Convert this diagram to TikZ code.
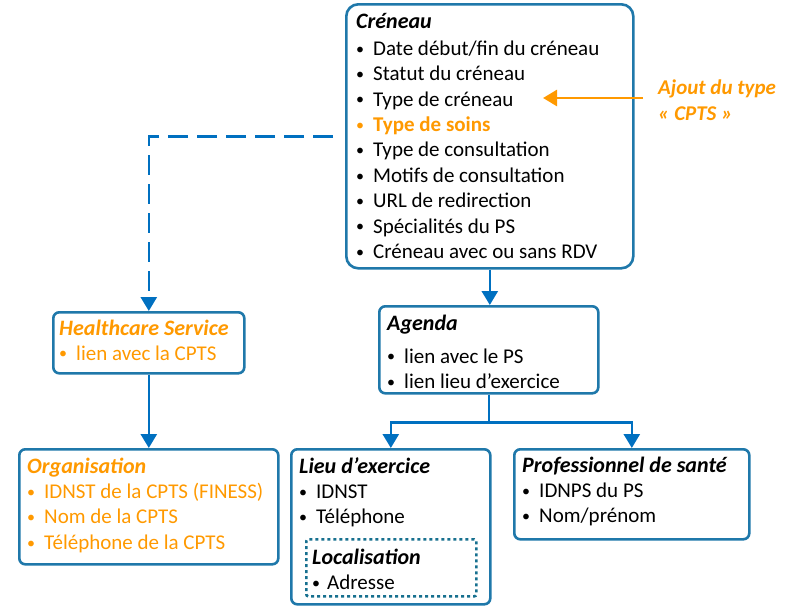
\documentclass[tikz,border=0pt]{standalone}
\usepackage{fontspec}
\setmainfont{Carlito}
\usetikzlibrary{arrows.meta}
\definecolor{boxblue}{HTML}{1F78AA}
\definecolor{linkblue}{HTML}{0070C0}
\definecolor{locblue}{HTML}{17708F}
\definecolor{cptsorange}{HTML}{FF9900}
\newcommand{\bul}{\raisebox{1.2pt}{\fontsize{16}{16}\selectfont\textbullet}}
\newcommand{\itm}[1]{\makebox[17pt][l]{\bul}#1}
\newcommand{\ttl}[1]{{\fontsize{22}{25.4}\selectfont\textbf{\textit{#1}}}}

\tikzset{
  box/.style={draw=boxblue, line width=2.6pt, rounded corners=6pt,
    anchor=north west, inner sep=0pt},
  content/.style={anchor=north west, inner sep=0pt, align=left,
    font=\fontsize{21}{25.4}\selectfont},
  link/.style={draw=linkblue, line width=2.6pt,
    -{Triangle[width=16pt,length=14pt]}},
}

\begin{document}
\begin{tikzpicture}[x=1pt,y=-1pt]
  \useasboundingbox (0,0) rectangle (789,605);

  % boxes
  \node[box, rounded corners=12pt, minimum width=287pt, minimum height=264pt] (creneau) at (345,3) {};
  \node[box, minimum width=191pt, minimum height=61pt] (health) at (52,311) {};
  \node[box, minimum width=219pt, minimum height=87pt] (agenda) at (378,305) {};
  \node[box, minimum width=259pt, minimum height=115pt] (orga) at (18,448) {};
  \node[box, minimum width=199pt, minimum height=155pt] (lieu) at (290,448) {};
  \node[box, draw=locblue, rounded corners=2pt, dash pattern=on 3pt off 3pt,
    minimum width=170pt, minimum height=57pt] (local) at (305,538) {};
  \node[box, minimum width=235pt, minimum height=90pt] (prof) at (513,448) {};

  % texts
  \node[content] (creneau txt) at (356,13) {\ttl{Créneau}\\[1.5pt]
    \itm{Date début/fin du créneau}\\
    \itm{Statut du créneau}\\
    \itm{Type de créneau}\\
    \textcolor{cptsorange}{\itm{\textbf{Type de soins}}}\\
    \itm{Type de consultation}\\
    \itm{Motifs de consultation}\\
    \itm{URL de redirection}\\
    \itm{Spécialités du PS}\\
    \itm{Créneau avec ou sans RDV}};
  \node[content, text=cptsorange] (health txt) at (59,320) {\ttl{Healthcare Service}\\[-1pt]
    \itm{lien avec la CPTS}};
  \node[content] (agenda txt) at (387,315) {\ttl{Agenda}\\[7pt]
    \itm{lien avec le PS}\\
    \itm{lien lieu d’exercice}};
  \node[content, text=cptsorange] (orga txt) at (27,457.5) {\ttl{Organisation}\\
    \itm{IDNST de la CPTS (FINESS)}\\
    \itm{Nom de la CPTS}\\
    \itm{Téléphone de la CPTS}};
  \node[content] (lieu txt) at (299,457) {\ttl{Lieu d’exercice}\\
    \itm{IDNST}\\
    \itm{Téléphone}};
  \node[content] (local txt) at (312,548.5) {\ttl{Localisation}\\
    \makebox[15pt][l]{\bul}Adresse};
  \node[content] (prof txt) at (522,456.5) {\ttl{Professionnel de santé}\\
    \itm{IDNPS du PS}\\
    \itm{Nom/prénom}};
  \node[content, font=\fontsize{21}{26}\selectfont, text=cptsorange] (ajout) at (658,80) {\textbf{\textit{Ajout du type}}\\
    \textbf{\textit{« CPTS »}}};

  % connectors
  \draw[link, dash pattern=on 20pt off 9pt, shorten <=12pt] (creneau.west) -| (health.north);
  \draw[link] (creneau.south) -- (creneau.south |- agenda.north);
  \draw[link] (health.south) -- (orga.north);
  \draw[link] (agenda.south) -- ++(0,28) -| (lieu.north);
  \draw[link] (agenda.south) -- ++(0,28) -| (prof.north);
  \coordinate (ajout tail) at (643,98);
  \coordinate (ajout head) at (543,98);
  \draw[draw=cptsorange, line width=2.6pt, -{Triangle[width=16pt,length=14pt]}] (ajout tail) -- (ajout head);
\end{tikzpicture}
\end{document}
